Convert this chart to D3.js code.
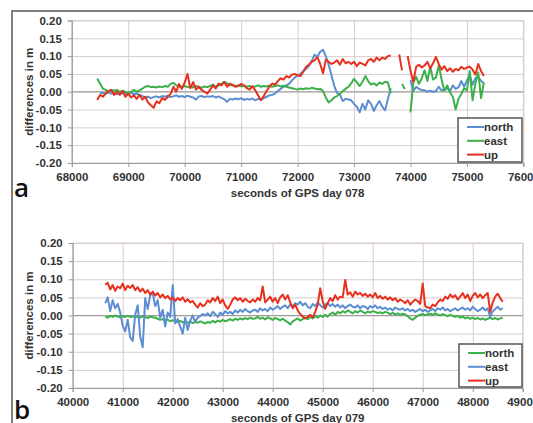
<!DOCTYPE html>
<html>
<head>
<meta charset="utf-8">
<script src="https://cdn.jsdelivr.net/npm/d3@7"></script>
<style>
body{margin:0;background:#fff;}
svg text{font-family:"Liberation Sans",Arial,sans-serif;font-weight:bold;fill:#333;}
</style>
</head>
<body>
<div id="chart"></div>
<script>
// panel a: GPS day 078, one sample every 50 s, differences in mm
var timeA = d3.range(68450, 75301, 50);
var northA = [
  null,-5,-3,-6,-2,-5,-4,-7,-3,-5,
  -4,-6,-3,-7,-5,-9,-12,-16,-14,-18,
  -15,-13,-16,-12,-14,-11,-15,-13,-10,-14,
  -12,-15,-11,-14,-16,-22,-13,-12,-15,-13,
  -14,-12,-16,-13,-17,-21,-28,-20,-22,-19,
  -21,-18,-23,-20,-22,-19,-24,-20,-22,-18,
  -14,-10,-9,-5,2,8,14,18,22,32,
  40,46,50,58,64,72,86,104,98,112,
  118,100,76,46,16,-4,-8,-26,-20,-22,
  -24,-34,-42,-58,-34,-50,-24,-34,-54,-38,
  -26,-42,-52,-20,10,null,null,null,null,null,
  null,33,2,14,8,5,4,0,3,0,
  2,14,4,6,10,2,18,8,12,30,
  14,32,46,20,38,42,30,24
];
var eastA = [
  37,23,9,5,0,5,3,5,0,2,
  0,-3,0,5,0,4,9,14,16,13,
  14,12,15,13,16,14,22,25,18,15,
  14,16,13,15,12,16,14,11,15,13,
  16,20,14,18,22,28,24,18,20,16,
  18,15,17,14,16,13,15,18,14,16,
  15,17,14,16,18,15,17,14,12,10,
  8,6,9,7,10,8,11,9,7,8,
  2,-16,-30,-24,-16,-12,-6,2,8,14,
  24,36,26,16,28,44,30,20,24,18,
  26,22,28,26,-4,null,null,null,22,8,
  null,-58,26,42,22,38,60,30,70,34,
  40,74,36,2,18,-2,-14,-50,-20,-6,
  10,4,58,-24,24,54,-18,26
];
var upA = [
  -23,-9,-14,-5,2,5,-9,0,-9,3,
  -14,-6,-16,-10,-20,-9,-22,-14,-30,-38,
  -45,-27,-32,-18,-23,-14,-6,14,0,22,
  8,26,50,10,27,6,14,5,0,-5,
  5,18,9,23,18,27,14,23,18,14,
  16,22,18,10,6,16,4,-10,-24,-12,
  2,14,23,20,30,38,34,44,40,48,
  50,46,44,56,70,76,84,88,97,78,
  52,90,84,78,82,88,76,92,80,84,
  78,84,72,82,78,74,88,92,84,96,
  88,96,92,100,102,null,null,105,60,null,
  100,58,28,70,76,68,74,84,66,80,
  98,78,62,72,58,66,56,64,60,70,
  64,68,70,62,48,78,58,44
];

// panel b: GPS day 079
var timeB = d3.range(40650, 48601, 50);
var northB = [
  -3,-6,-1,-4,0,-3,-5,-2,-4,-1,
  -4,-2,-5,-3,-6,-2,-4,-7,-3,-5,
  -6,-9,-12,-10,-14,-11,-16,-13,-15,-18,
  -15,-19,-16,-20,-17,-21,-18,-20,-16,-19,
  -22,-18,-20,-15,-19,-14,-17,-12,-16,-13,
  -10,-14,-9,-12,-8,-11,-7,-10,-6,-9,
  -8,-4,-9,-6,-11,-5,-8,-12,-7,-10,
  -13,-9,-14,-18,-25,-16,-12,-8,-14,-10,
  -6,-10,-4,-8,-2,-6,0,-4,2,-3,
  4,8,2,10,6,12,8,14,10,6,
  12,8,14,10,6,11,8,12,10,7,
  9,6,10,8,4,7,3,6,2,5,
  3,-2,-8,-12,-6,-1,2,4,1,3,
  5,2,6,3,0,4,1,-2,2,-1,
  -4,-1,-6,-3,-8,-5,-9,-6,-10,-7,
  -11,-8,-12,-9,-6,-10,-7,-11,-8,-6
];
var eastB = [
  34,50,12,42,20,32,8,-28,-44,-12,
  -60,-70,2,28,-58,-88,48,18,56,62,
  26,42,-6,16,-30,8,-4,84,-22,-10,
  -30,-50,-6,-40,-14,0,-18,-6,-2,4,
  0,6,-2,10,4,-4,8,2,12,6,
  10,4,14,8,16,10,18,12,8,14,
  16,10,20,14,18,12,22,16,20,26,
  18,24,28,20,30,26,34,30,38,28,
  34,24,20,32,26,36,28,22,30,34,
  26,32,24,30,22,28,20,26,30,24,
  22,28,20,26,24,18,26,22,28,20,
  24,18,22,16,20,14,22,18,16,20,
  14,18,12,16,10,14,18,12,16,10,
  14,18,12,20,16,22,14,18,12,16,
  20,14,18,22,16,20,14,24,18,12,
  16,22,14,20,-4,12,18,24,16,20
];
var upB = [
  85,90,72,84,68,80,75,88,70,82,
  76,84,70,78,66,74,62,70,58,66,
  55,62,50,58,48,54,44,50,40,48,
  42,50,38,45,36,40,30,22,34,26,
  30,42,36,48,40,52,34,44,28,18,
  30,44,50,42,48,38,46,40,36,44,
  38,48,42,80,36,44,52,38,48,34,
  50,58,44,56,36,20,30,14,4,-3,
  -8,-4,2,-6,10,30,75,40,18,34,
  48,40,56,44,52,50,98,58,64,52,
  66,58,62,54,60,52,58,50,62,48,
  54,46,52,44,50,42,48,38,44,40,
  34,42,30,38,44,40,32,88,26,22,
  20,30,26,36,44,40,52,46,58,50,
  56,44,52,62,48,58,40,54,62,50,
  58,48,56,62,10,36,52,60,48,38
];

var yTicks = [-0.20,-0.15,-0.10,-0.05,0,0.05,0.10,0.15,0.20];
var xTicksA = d3.range(68000, 76001, 1000);
var xTicksB = d3.range(40000, 49001, 1000);

var blue = "#5b8ed2", green = "#3cb04a", red = "#e8301f";

var W = 533, H = 423;
var svg = d3.select("#chart").append("svg").attr("width", W).attr("height", H);

// outer frame (only top and left edges are visible)
svg.append("path").attr("d", "M12," + H + "V11H" + W)
  .attr("fill", "none").attr("stroke", "#555").attr("stroke-width", 1.5);

function styleAxis(s){
  s.select(".domain").attr("stroke", "#999");
  s.selectAll("line").attr("stroke", "#999");
  s.selectAll("text").attr("font-size", 11.5).attr("font-family", null)
    .attr("font-weight", "bold").attr("fill", "#333");
}

function panel(o){
  var x = d3.scaleLinear().domain(o.xDomain).range([o.left, o.right]);
  var y = d3.scaleLinear().domain([-0.2, 0.2]).range([o.bottom, o.top]);
  var g = svg.append("g");

  g.append("rect").attr("x", o.left).attr("y", o.top)
    .attr("width", o.right - o.left).attr("height", o.bottom - o.top)
    .attr("fill", "#fff").attr("stroke", "#d8cfcf");

  // gridlines
  g.append("g").attr("transform", "translate(0," + o.bottom + ")")
    .call(d3.axisBottom(x).tickValues(o.xTicks).tickSize(-(o.bottom - o.top)).tickFormat(""))
    .call(function(s){ s.select(".domain").remove(); s.selectAll("line").attr("stroke", "#d8cccc"); });
  g.append("g").attr("transform", "translate(" + o.left + ",0)")
    .call(d3.axisLeft(y).tickValues(yTicks).tickSize(-(o.right - o.left)).tickFormat(""))
    .call(function(s){ s.select(".domain").remove(); s.selectAll("line").attr("stroke", "#d8cccc"); });

  // zero line
  g.append("line").attr("x1", o.left).attr("x2", o.right)
    .attr("y1", y(0)).attr("y2", y(0)).attr("stroke", "#9a9a9a");

  // axes with labels
  g.append("g").attr("transform", "translate(" + o.left + ",0)")
    .call(d3.axisLeft(y).tickValues(yTicks).tickSize(4).tickPadding(6)
      .tickFormat(function(d){ return d.toFixed(2); }))
    .call(styleAxis);
  g.append("g").attr("transform", "translate(0," + o.bottom + ")")
    .call(d3.axisBottom(x).tickValues(o.xTicks).tickSize(4).tickPadding(6)
      .tickFormat(d3.format("d")))
    .call(styleAxis);

  // series
  var line = d3.line()
    .defined(function(d){ return d.v !== null; })
    .x(function(d){ return x(d.t); })
    .y(function(d){ return y(d.v / 1000); });

  o.series.forEach(function(sr){
    var pts = o.time.map(function(t, i){ return {t: t, v: sr.values[i]}; });
    g.append("path").datum(pts).attr("d", line)
      .attr("fill", "none").attr("stroke", sr.color)
      .attr("stroke-width", 2).attr("stroke-linejoin", "round");
  });

  // titles
  g.append("text").attr("x", (o.left + o.right) / 2).attr("y", o.bottom + 34)
    .attr("text-anchor", "middle").attr("font-size", 11.5).attr("font-weight", "bold")
    .text(o.xTitle);
  g.append("text").attr("transform", "translate(33," + ((o.top + o.bottom) / 2) + ") rotate(-90)")
    .attr("text-anchor", "middle").attr("font-size", 11.5).attr("font-weight", "bold")
    .text("differences in m");
  g.append("text").attr("x", 14).attr("y", o.letterY)
    .style("font-family", "'Open Sans',sans-serif").style("font-weight", 600)
    .style("fill", "#111").attr("font-size", 26).text(o.letter);

  // legend
  var lg = o.legend;
  g.append("rect").attr("x", lg.x).attr("y", lg.y).attr("width", lg.w).attr("height", lg.h)
    .attr("fill", "#fff").attr("stroke", "#555").attr("stroke-width", 1.5);
  o.series.forEach(function(sr, i){
    var ly = lg.y + 9 + i * 13.8;
    g.append("line").attr("x1", lg.x + 9).attr("x2", lg.x + 26)
      .attr("y1", ly).attr("y2", ly).attr("stroke", sr.color).attr("stroke-width", 2);
    g.append("text").attr("x", lg.x + 26).attr("y", ly + 4)
      .attr("font-size", 11.5).attr("font-weight", "bold").text(sr.name);
  });
}

panel({
  left: 71.8, right: 523.4, top: 20.5, bottom: 163,
  xDomain: [68000, 76000], xTicks: xTicksA, time: timeA,
  xTitle: "seconds of GPS day 078", letter: "a", letterY: 197,
  legend: {x: 458, y: 118, w: 64, h: 44},
  series: [
    {name: "north", color: blue, values: northA},
    {name: "east", color: green, values: eastA},
    {name: "up", color: red, values: upA}
  ]
});

panel({
  left: 72.7, right: 522.7, top: 243, bottom: 388,
  xDomain: [40000, 49000], xTicks: xTicksB, time: timeB,
  xTitle: "seconds of GPS day 079", letter: "b", letterY: 419,
  legend: {x: 459, y: 344, w: 63, h: 43},
  series: [
    {name: "north", color: green, values: northB},
    {name: "east", color: blue, values: eastB},
    {name: "up", color: red, values: upB}
  ]
});
</script>
</body>
</html>
